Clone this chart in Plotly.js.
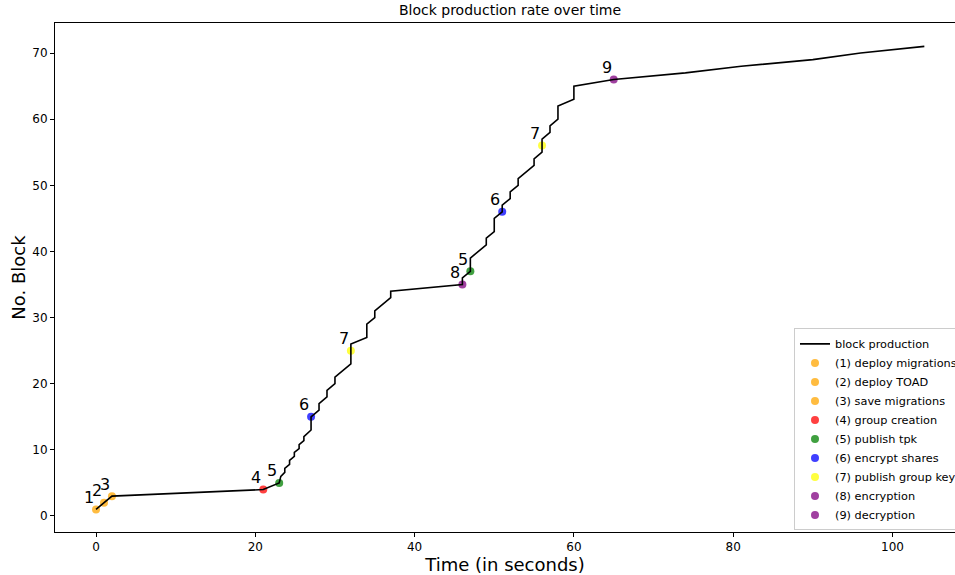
<!DOCTYPE html>
<html>
<head>
<meta charset="utf-8">
<script src="https://cdn.plot.ly/plotly-3.0.1.min.js"></script>
<style>
html,body{margin:0;padding:0;overflow:hidden;background:#fff;}
#chart{width:955px;height:575px;}
</style>
</head>
<body>
<div id="chart"></div>
<script>
// Block production line (time in seconds, block number)
const lineTime  = [0,1,2,21,23,23.2,23.7,23.7,24.3,24.3,24.9,24.9,25.5,25.5,26.1,26.1,26.7,27,27,
                   28,28,29,29,30,30,31,32,32,34,34,35,35,37,37,46,46,47,47,49,49,50,50,51,51,52,52,53,53,55,55,56,56,57,57,58,58,60,60,65,74,81,90,96,104];
const lineBlock = [1,2,3,4,5,6,6.6,7.2,7.8,8.4,9,9.6,10.2,10.8,11.4,12,12.6,13,15,
                   16,17,18,19,20,21,22,23,26,27,29,30,31,33,34,35,36,37,39,41,42,43,45,46,47,48,49,50,51,53,54,55,57,58,59,60,62,63,65,66,67,68,69,70,71];

// Events
const eventNames  = ["(1) deploy migrations","(2) deploy TOAD","(3) save migrations","(4) group creation",
                     "(5) publish tpk","(6) encrypt shares","(7) publish group key","(8) encryption","(9) decryption"];
const eventLabels = ["1","2","3","4","5","6","7","8","9"];
const eventTimes  = [[0],[1],[2],[21],[23,47],[27,51],[32,56],[46],[65]];
const eventBlocks = [[1],[2],[3],[4],[5,37],[15,46],[25,56],[35],[66]];
const eventColors = ["orange","orange","orange","red","green","blue","yellow","purple","purple"];

const xTicks = [0,20,40,60,80,100];
const yTicks = [0,10,20,30,40,50,60,70];

const font = "DejaVu Sans, sans-serif";
const traces = [];
const annotations = [];
eventNames.forEach((name,i)=>{
  traces.push({
    x: eventTimes[i], y: eventBlocks[i], type:"scatter", mode:"markers", name:name,
    marker:{color:eventColors[i], size:8, opacity:0.75},
    legendrank: 2+i, cliponaxis:false
  });
  eventTimes[i].forEach((t,j)=>{
    annotations.push({x:t, y:eventBlocks[i][j], xref:"x", yref:"y", text:eventLabels[i],
      showarrow:false, xshift:-7, yshift:12, font:{family:font, size:16, color:"#000"}});
  });
});
traces.push({x: lineTime, y: lineBlock, type:"scatter", mode:"lines", name:"block production",
  line:{color:"#000", width:1.6}, legendrank:1});

const axisCommon = {showline:true, linecolor:"#000", linewidth:1, ticks:"outside",
  ticklen:4, tickcolor:"#000", showgrid:false, zeroline:false,
  tickfont:{family:font, size:12, color:"#000"}};

const layout = {
  width:955, height:575,
  margin:{l:55, r:0, t:23, b:43, autoexpand:false},
  paper_bgcolor:"#fff", plot_bgcolor:"#fff",
  title:{text:"Block production rate over time", font:{family:font, size:14, color:"#000"},
         x:0.5056, xref:"paper", xanchor:"center", y:1, yref:"container", yanchor:"top", pad:{t:5}},
  xaxis:Object.assign({}, axisCommon, {mirror:true, range:[-5.15,107.85], tickvals:xTicks,
        title:{text:"Time (in seconds)", font:{family:font, size:18, color:"#000"}, standoff:5}}),
  yaxis:Object.assign({}, axisCommon, {mirror:false, range:[-2.42,74.54], tickvals:yTicks,
        title:{text:"No. Block", font:{family:font, size:18, color:"#000"}, standoff:2}}),
  showlegend:true,
  legend:{x:0.8211, y:0.40, xanchor:"left", yanchor:"top", bgcolor:"rgba(255,255,255,0.9)",
          bordercolor:"#ccc", borderwidth:1, font:{family:font, size:11.3, color:"#000"},
          tracegroupgap:0, itemwidth:30},
  annotations: annotations
};

Plotly.newPlot("chart", traces, layout, {displayModeBar:false, staticPlot:true});
</script>
</body>
</html>
